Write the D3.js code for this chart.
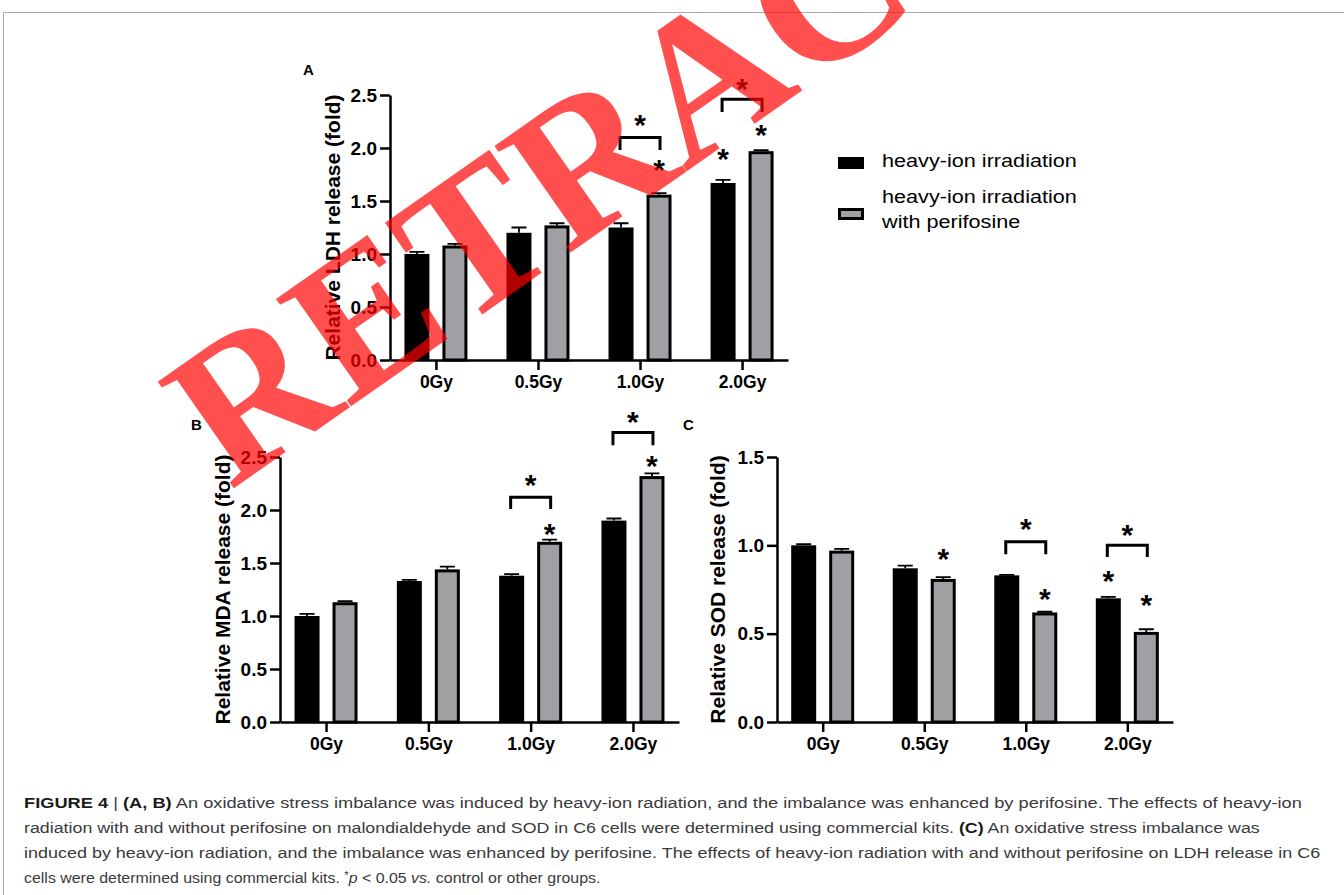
<!DOCTYPE html>
<html lang="en">
<head>
<meta charset="UTF-8">
<title>Figure 4</title>
<script src="https://cdnjs.cloudflare.com/ajax/libs/d3/7.8.5/d3.min.js"></script>
<style>
    body { margin: 0; background: #fff; }
    svg { display: block; }
    .axis text { font-family: "Liberation Sans", Arial, sans-serif; font-weight: bold; fill: #000; }
    .axis path, .axis line { stroke: #000; stroke-width: 2.5px; }
    .ytitle { font-family: "Liberation Sans", Arial, sans-serif; font-weight: bold; font-size: 21px; }
    .panel-label { font-family: "Liberation Sans", Arial, sans-serif; font-weight: bold; font-size: 15px; }
    .star { font-family: "Liberation Sans", Arial, sans-serif; font-weight: bold; font-size: 30px; text-anchor: middle; }
    .legend text { font-family: "Liberation Sans", Arial, sans-serif; font-size: 18.5px; fill: #000; }
    .caption { font-family: "Liberation Sans", Arial, sans-serif; font-size: 15.5px; fill: #3a3a3a; }
    .caption .b { font-weight: bold; fill: #1a1a1a; }
    .caption .i { font-style: italic; }
</style>
</head>
<body>
<div id="fig"></div>
<script>
    // ---- data ----
    var categories = ["0Gy", "0.5Gy", "1.0Gy", "2.0Gy"];
    var seriesNames = ["heavy-ion irradiation", "heavy-ion irradiation|with perifosine"];

    var ldhIrr = [1.00, 1.20, 1.25, 1.67];
    var ldhIrrErr = [0.02, 0.05, 0.04, 0.03];
    var ldhPeri = [1.08, 1.27, 1.56, 1.97];
    var ldhPeriErr = [0.015, 0.02, 0.015, 0.01];

    var mdaIrr = [1.00, 1.33, 1.38, 1.90];
    var mdaIrrErr = [0.02, 0.01, 0.015, 0.02];
    var mdaPeri = [1.13, 1.44, 1.70, 2.32];
    var mdaPeriErr = [0.01, 0.025, 0.02, 0.025];

    var sodIrr = [1.00, 0.87, 0.83, 0.70];
    var sodIrrErr = [0.006, 0.015, 0.003, 0.008];
    var sodPeri = [0.97, 0.81, 0.62, 0.51];
    var sodPeriErr = [0.01, 0.01, 0.004, 0.015];

    var ldhTicks = [0, 0.5, 1.0, 1.5, 2.0, 2.5];
    var mdaTicks = [0, 0.5, 1.0, 1.5, 2.0, 2.5];
    var sodTicks = [0, 0.5, 1.0, 1.5];

    // brackets: top of bracket, bottom of legs, star above (data units)
    var ldhBrackets = [
        { cat: "1.0Gy", top: 2.10, leg: 1.98, star: 2.28 },
        { cat: "2.0Gy", top: 2.46, leg: 2.34, star: 2.62 }
    ];
    var ldhStars = [
        { cat: "1.0Gy", s: 1, y: 1.86 },
        { cat: "2.0Gy", s: 0, y: 1.96 },
        { cat: "2.0Gy", s: 1, y: 2.19 }
    ];
    var mdaBrackets = [
        { cat: "1.0Gy", top: 2.12, leg: 2.01, star: 2.30 },
        { cat: "2.0Gy", top: 2.73, leg: 2.61, star: 2.90 }
    ];
    var mdaStars = [
        { cat: "1.0Gy", s: 1, y: 1.84 },
        { cat: "2.0Gy", s: 1, y: 2.48 }
    ];
    var sodBrackets = [
        { cat: "1.0Gy", top: 1.02, leg: 0.95, star: 1.13 },
        { cat: "2.0Gy", top: 1.00, leg: 0.934, star: 1.10 }
    ];
    var sodStars = [
        { cat: "0.5Gy", s: 1, y: 0.96 },
        { cat: "1.0Gy", s: 1, y: 0.736 },
        { cat: "2.0Gy", s: 0, y: 0.84 },
        { cat: "2.0Gy", s: 1, y: 0.70 }
    ];

    var captionLines = [
        [["b", "FIGURE 4"], ["", " | "], ["b", "(A, B)"], ["", " An oxidative stress imbalance was induced by heavy-ion radiation, and the imbalance was enhanced by perifosine. The effects of heavy-ion"]],
        [["", "radiation with and without perifosine on malondialdehyde and SOD in C6 cells were determined using commercial kits. "], ["b", "(C)"], ["", " An oxidative stress imbalance was"]],
        [["", "induced by heavy-ion radiation, and the imbalance was enhanced by perifosine. The effects of heavy-ion radiation with and without perifosine on LDH release in C6"]],
        [["", "cells were determined using commercial kits. "], ["sup", "*"], ["i", "p"], ["", " < 0.05 "], ["i", "vs."], ["", " control or other groups."]]
    ];
    var captionWidths = [1279, 1236, 1298, 577];

    var width = 1344, height = 895;
    var svg = d3.select("#fig").append("svg")
        .attr("width", width)
        .attr("height", height);

    // frame
    svg.append("path")
        .attr("d", "M3.5," + height + "V12.5H" + width)
        .attr("fill", "none")
        .attr("stroke", "#aaa")
        .attr("stroke-width", 1);

    var fills = ["#000", "#a0a0a4"];

    function drawPanel(cfg) {
        var g = svg.append("g");
        var x = d3.scalePoint().domain(categories).range([cfg.x0, cfg.x1]).padding(0.45);
        var y = d3.scaleLinear().domain([0, cfg.max]).range([cfg.y0, cfg.y1]);
        var off = [-19, 19];
        var bw = 25;

        var vals = [cfg.irr, cfg.peri];
        var errs = [cfg.irrErr, cfg.periErr];

        for (var s = 0; s < 2; s++) {
            var rows = categories.map(function(c, i) {
                return { cat: c, v: vals[s][i], e: errs[s][i] };
            });
            var sIdx = s;
            // error bars (upper only)
            g.selectAll(".err" + s).data(rows).enter().append("path")
                .attr("d", function(d) {
                    var cx = x(d.cat) + off[sIdx];
                    return "M" + cx + "," + y(d.v) + "V" + y(d.v + d.e) +
                        "M" + (cx - 7.5) + "," + y(d.v + d.e) + "H" + (cx + 7.5);
                })
                .attr("stroke", "#000")
                .attr("stroke-width", 1.8)
                .attr("fill", "none");
            g.selectAll(".bar" + s).data(rows).enter().append("rect")
                .attr("x", function(d) { return x(d.cat) + off[sIdx] - bw / 2 + (sIdx ? 1.5 : 0); })
                .attr("y", function(d) { return y(d.v) + (sIdx ? 1.5 : 0); })
                .attr("width", sIdx ? bw - 3 : bw)
                .attr("height", function(d) { return y(0) - y(d.v) - (sIdx ? 1.5 : 0); })
                .attr("fill", fills[s])
                .attr("stroke", sIdx ? "#000" : "none")
                .attr("stroke-width", 3);
        }

        g.append("g")
            .attr("class", "axis")
            .attr("transform", "translate(" + cfg.x0 + ",0)")
            .call(d3.axisLeft(y).tickValues(cfg.ticks).tickFormat(d3.format(".1f")).tickSize(10).tickSizeOuter(0).tickPadding(3))
            .selectAll("text").style("font-size", "19px");
        g.append("g")
            .attr("class", "axis")
            .attr("transform", "translate(0," + cfg.y0 + ")")
            .call(d3.axisBottom(x).tickSize(10).tickSizeOuter(0).tickPadding(6))
            .selectAll("text").style("font-size", "17.5px");

        g.append("text")
            .attr("class", "ytitle")
            .attr("transform", "translate(" + cfg.titleX + "," + (cfg.y0 + cfg.y1) / 2 + ") rotate(-90)")
            .attr("text-anchor", "middle")
            .attr("dy", "0.36em")
            .text(cfg.title);

        g.append("text")
            .attr("class", "panel-label")
            .attr("x", cfg.labelX)
            .attr("y", cfg.labelY)
            .text(cfg.label);

        // brackets
        g.selectAll(".bracket").data(cfg.brackets).enter().append("path")
            .attr("d", function(d) {
                var a = x(d.cat) - 20, b = x(d.cat) + 20;
                return "M" + a + "," + y(d.leg) + "V" + y(d.top) + "H" + b + "V" + y(d.leg);
            })
            .attr("fill", "none")
            .attr("stroke", "#000")
            .attr("stroke-width", 3);
        g.selectAll(".bstar").data(cfg.brackets).enter().append("text")
            .attr("class", "star")
            .attr("x", function(d) { return x(d.cat); })
            .attr("y", function(d) { return y(d.star) + 17; })
            .text("*");
        g.selectAll(".sstar").data(cfg.stars).enter().append("text")
            .attr("class", "star")
            .attr("x", function(d) { return x(d.cat) + off[d.s]; })
            .attr("y", function(d) { return y(d.y) + 17; })
            .text("*");
    }

    drawPanel({
        x0: 390, x1: 788, y0: 360, y1: 95, max: 2.5, ticks: ldhTicks,
        irr: ldhIrr, irrErr: ldhIrrErr, peri: ldhPeri, periErr: ldhPeriErr,
        title: "Relative LDH release (fold)", titleX: 332,
        label: "A", labelX: 303, labelY: 75,
        brackets: ldhBrackets, stars: ldhStars
    });
    drawPanel({
        x0: 280, x1: 679, y0: 722, y1: 457, max: 2.5, ticks: mdaTicks,
        irr: mdaIrr, irrErr: mdaIrrErr, peri: mdaPeri, periErr: mdaPeriErr,
        title: "Relative MDA release (fold)", titleX: 222,
        label: "B", labelX: 191, labelY: 430,
        brackets: mdaBrackets, stars: mdaStars
    });
    drawPanel({
        x0: 777, x1: 1173, y0: 722, y1: 457, max: 1.5, ticks: sodTicks,
        irr: sodIrr, irrErr: sodIrrErr, peri: sodPeri, periErr: sodPeriErr,
        title: "Relative SOD release (fold)", titleX: 717,
        label: "C", labelX: 683, labelY: 430,
        brackets: sodBrackets, stars: sodStars
    });

    // legend
    var legend = svg.append("g").attr("class", "legend");
    var legendRows = [{ y: 157, lines: [167] }, { y: 208, lines: [203, 228] }];
    seriesNames.forEach(function(name, i) {
        var r = legendRows[i];
        legend.append("rect")
            .attr("x", i ? 839.5 : 838)
            .attr("y", i ? r.y + 1.5 : r.y)
            .attr("width", i ? 23 : 26)
            .attr("height", i ? 9 : 12)
            .attr("fill", fills[i])
            .attr("stroke", i ? "#000" : "none")
            .attr("stroke-width", 3);
        name.split("|").forEach(function(line, j) {
            var t = legend.append("text")
                .attr("x", 0)
                .attr("y", 0)
                .text(line);
            // stretch to the width seen in the figure (195px for the long line)
            var k = 195 / legend.append("text").text("heavy-ion irradiation").node().getComputedTextLength();
            t.attr("transform", "translate(882," + r.lines[j] + ") scale(" + k + ",1)");
        });
    });
    legend.selectAll("text").filter(function() { return !this.getAttribute("transform"); }).remove();

    // caption
    var baselines = [808, 833, 858, 883];
    captionLines.forEach(function(parts, i) {
        var g = svg.append("g");
        var t = g.append("text").attr("class", "caption").attr("x", 0).attr("y", 0);
        parts.forEach(function(p, j) {
            var ts = t.append("tspan").text(p[1]);
            if (p[0] === "b") ts.attr("class", "b");
            if (p[0] === "i") ts.attr("class", "i");
            if (p[0] === "sup") ts.style("font-size", "11px").attr("dy", -4);
            if (j > 0 && parts[j - 1][0] === "sup") ts.attr("dy", 4);
        });
        var w = t.node().getComputedTextLength();
        g.attr("transform", "translate(24," + baselines[i] + ") scale(" + (captionWidths[i] / w) + ",1)");
    });

    // watermark
    svg.append("text")
        .attr("transform", "translate(230,491) rotate(-35)")
        .style("font-family", "'Liberation Serif', 'Times New Roman', serif")
        .style("font-weight", "bold")
        .style("font-size", "200px")
        .attr("fill", "#ff0000")
        .attr("fill-opacity", 0.69)
        .text("RETRACTED");
</script>
</body>
</html>
